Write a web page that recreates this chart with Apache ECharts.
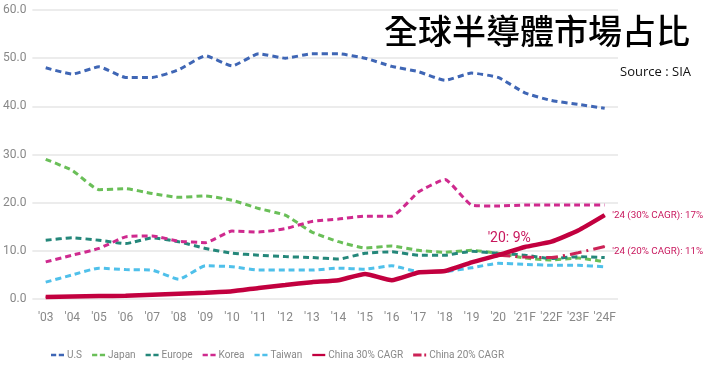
<!DOCTYPE html>
<html><head><meta charset="utf-8">
<script src="https://cdn.jsdelivr.net/npm/echarts@6/dist/echarts.min.js"></script>
<style>html,body{margin:0;padding:0;background:#fff}#c{width:706px;height:367px}</style>
</head><body><div id="c"></div>
<script>
const categories = ["'03","'04","'05","'06","'07","'08","'09","'10","'11","'12","'13","'14","'15","'16","'17","'18","'19","'20","'21F","'22F","'23F","'24F"];
const us      = [48.0,46.7,48.2,46.0,46.0,47.6,50.5,48.4,50.9,50.0,50.9,50.9,50.0,48.3,47.2,45.4,46.9,46.0,42.8,41.2,40.4,39.6];
const japan   = [29.0,26.7,22.7,22.9,21.9,21.1,21.4,20.5,18.8,17.4,13.9,11.9,10.6,11.0,10.1,9.7,10.1,9.5,8.5,8.1,8.5,7.7];
const europe  = [12.2,12.7,12.2,11.5,12.7,11.9,10.5,9.5,9.1,8.8,8.6,8.3,9.5,9.8,9.1,9.1,9.9,9.5,9.1,8.4,8.8,8.6];
const korea   = [7.7,9.1,10.5,12.9,13.1,12.0,11.7,14.1,13.9,14.6,16.1,16.6,17.2,17.2,22.2,24.8,19.5,19.3,19.5,19.5,19.5,19.5];
const taiwan  = [3.5,5.0,6.4,6.1,6.0,4.1,6.9,6.7,6.0,6.0,6.0,6.4,6.2,6.9,5.7,5.7,6.5,7.4,7.2,7.0,7.0,6.7];
const china30 = [0.4,0.5,0.6,0.7,0.9,1.1,1.3,1.6,2.3,2.9,3.5,3.9,5.2,3.9,5.5,5.8,7.6,9.1,10.8,11.9,14.2,17.4];
const china20 = [null,null,null,null,null,null,null,null,null,null,null,null,null,null,null,null,null,9.1,8.7,8.6,9.6,10.9];
const yTicks = [0,10,20,30,40,50,60];
const notes = {"'20": "'20: 9%", c30: "'24 (30% CAGR): 17%", c20: "'24 (20% CAGR): 11%"};

const narrow = "Roboto,'Liberation Sans Narrow',sans-serif";
const chart = echarts.init(document.getElementById('c'), null, {renderer:'canvas'});

const dashIcon = 'path://M0,0H6V3H0Z M9,0H15V3H9Z';
const solidIcon = 'path://M0,0H17V3H0Z';
const dashDotIcon = 'path://M0,0H9V3H0Z M12,0H14V3H12Z';

function dashed(name, data, color){
  return {name, type:'line', data, symbol:'none', smooth:0.15,
    lineStyle:{color, width:3, type:[6,4]}, itemStyle:{color}};
}
const annoColor = '#c8175d';
const c30data = china30.map((v,i)=>{
  if (categories[i]==="'20") return {value:v, label:{show:true, position:'top', distance:9, offset:[11,0], formatter:notes["'20"], color:annoColor, fontSize:14, fontFamily:narrow}};
  if (i===china30.length-1) return {value:v, label:{show:true, position:'right', distance:7, formatter:notes.c30, color:annoColor, fontSize:9.8, fontFamily:narrow}};
  return v;
});
const c20data = china20.map((v,i)=>{
  if (i===china20.length-1) return {value:v, label:{show:true, position:'right', distance:7, offset:[0,5], formatter:notes.c20, color:annoColor, fontSize:9.8, fontFamily:narrow}};
  return v;
});

chart.setOption({
  animation:false,
  title:[
    {text:'全球半導體市場占比', right:11, top:9, textStyle:{fontFamily:"'Noto Sans CJK TC',sans-serif", fontSize:34, fontWeight:500, color:'#000'}},
    {text:'Source : SIA', right:10, top:61, textStyle:{fontFamily:"'Open Sans',sans-serif", fontSize:13, fontWeight:'normal', color:'#111'}}
  ],
  grid:{left:32, right:88, top:10, bottom:68},
  legend:{
    left:46, top:345, itemWidth:13, itemHeight:4, itemGap:10,
    textStyle:{color:'#888', fontSize:10, fontFamily:narrow, padding:[0,0,0,-2]},
    data:[
      {name:'U.S', icon:dashIcon},
      {name:'Japan', icon:dashIcon},
      {name:'Europe', icon:dashIcon},
      {name:'Korea', icon:dashIcon},
      {name:'Taiwan', icon:dashIcon},
      {name:'China 30% CAGR', icon:solidIcon},
      {name:'China 20% CAGR', icon:dashDotIcon}
    ]
  },
  xAxis:{type:'category', data:categories, boundaryGap:true,
    axisLine:{show:false}, axisTick:{show:false},
    axisLabel:{color:'#888', fontSize:12, margin:13, interval:0, fontFamily:narrow}},
  yAxis:{type:'value', min:yTicks[0], max:yTicks[yTicks.length-1], interval:10,
    axisLine:{show:false}, axisTick:{show:false},
    axisLabel:{color:'#888', fontSize:12, margin:6, fontFamily:narrow, formatter:v=>v.toFixed(1)},
    splitLine:{lineStyle:{color:'#ececec', width:2}}},
  series:[
    dashed('U.S', us, '#3f66b5'),
    dashed('Japan', japan, '#6abf58'),
    dashed('Europe', europe, '#24877a'),
    dashed('Korea', korea, '#cf2a8e'),
    dashed('Taiwan', taiwan, '#4fc0ea'),
    {name:'China 30% CAGR', type:'line', data:c30data, symbol:'circle', symbolSize:1, showSymbol:true, smooth:0.15, z:5,
      lineStyle:{color:'#c2003f', width:4.5}, itemStyle:{color:'#c2003f'}},
    {name:'China 20% CAGR', type:'line', data:c20data, symbol:'circle', symbolSize:1, showSymbol:true, smooth:0.15, z:4,
      lineStyle:{color:'#cc2256', width:3, type:[12,5,2,5]}, itemStyle:{color:'#cc2256'}}
  ]
});
</script></body></html>
